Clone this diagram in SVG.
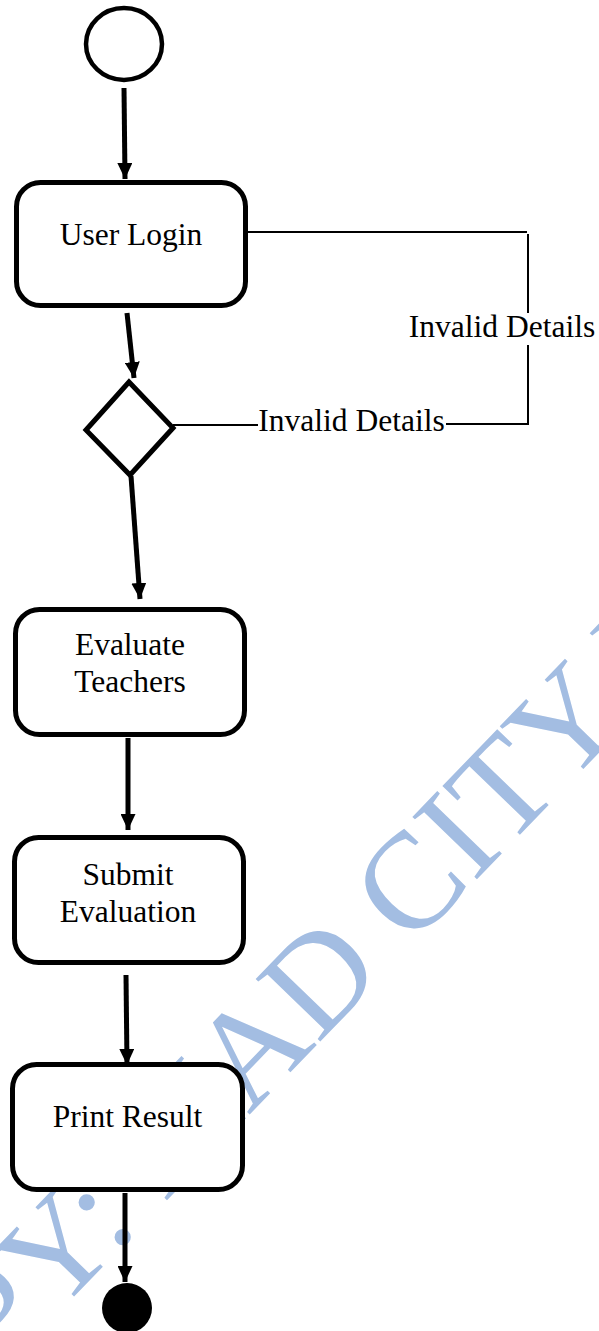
<svg xmlns="http://www.w3.org/2000/svg" width="599" height="1331" viewBox="0 0 599 1331">
  <style>
    .box { fill: #ffffff; stroke: #000000; stroke-width: 5; }
    .label { font-family: "Liberation Serif", "Times New Roman", serif; font-size: 31.5px; fill: #000000; text-anchor: middle; }
    .flow { stroke: #000000; stroke-width: 5; fill: none; marker-end: url(#arrow); }
    .loop { stroke: #000000; stroke-width: 2; fill: none; }
    .mark { font-family: "Liberation Serif", "Times New Roman", serif; font-size: 137px; fill: #a3bde2; }
  </style>
  <defs>
    <marker id="arrow" markerUnits="userSpaceOnUse" markerWidth="16" markerHeight="15" refX="16" refY="7.5" orient="auto">
      <path d="M0,0 L16,7.5 L0,15 Z" fill="#000000"/>
    </marker>
  </defs>

  <rect width="599" height="1331" fill="#ffffff"/>

  <!-- background watermark -->
  <text class="mark" transform="translate(1,1372) rotate(-46)">PY: MAD CITY U</text>

  <!-- connectors -->
  <g id="connectors">
    <line class="flow" x1="124" y1="88" x2="125" y2="179"/>
    <line class="flow" x1="127" y1="313" x2="134" y2="378"/>
    <line class="flow" x1="131" y1="476" x2="140" y2="599"/>
    <line class="flow" x1="128" y1="738" x2="128" y2="830"/>
    <line class="flow" x1="126" y1="975" x2="127" y2="1065"/>
    <line class="flow" x1="125" y1="1193" x2="125" y2="1282"/>
    <!-- invalid details loop back to login -->
    <path class="loop" d="M248,232 H527"/>
    <path class="loop" d="M528,234 V313"/>
    <path class="loop" d="M528,345 V424 H446"/>
    <path class="loop" d="M173,425 H258"/>
    <text class="label" x="502" y="337">Invalid Details</text>
    <text class="label" x="351.5" y="431">Invalid Details</text>
  </g>

  <!-- nodes -->
  <g id="start">
    <ellipse cx="124" cy="44" rx="38" ry="36" fill="#ffffff" stroke="#000000" stroke-width="4.5"/>
  </g>

  <g id="user-login">
    <rect class="box" x="16.5" y="182.5" width="229" height="123" rx="24"/>
    <text class="label" x="131" y="245">User Login</text>
  </g>

  <g id="decision">
    <polygon points="129,382 173,428 130,475 86,430" fill="#ffffff" stroke="#000000" stroke-width="5" stroke-linejoin="miter"/>
  </g>

  <g id="evaluate-teachers">
    <rect class="box" x="15.5" y="609.5" width="229" height="125" rx="24"/>
    <text class="label" x="130" y="655">Evaluate</text>
    <text class="label" x="130" y="692">Teachers</text>
  </g>

  <g id="submit-evaluation">
    <rect class="box" x="14.5" y="837.5" width="229" height="125" rx="24"/>
    <text class="label" x="128" y="885">Submit</text>
    <text class="label" x="128" y="922">Evaluation</text>
  </g>

  <g id="print-result">
    <rect class="box" x="12.5" y="1064.5" width="230" height="125" rx="24"/>
    <text class="label" x="127.5" y="1127">Print Result</text>
  </g>

  <g id="end">
    <circle cx="127" cy="1308" r="25" fill="#000000"/>
  </g>
</svg>
